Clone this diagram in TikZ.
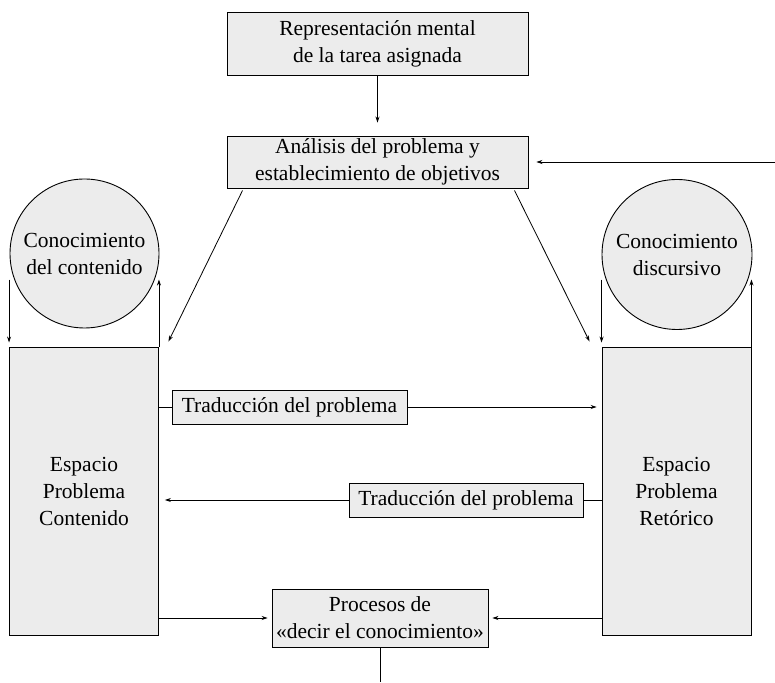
\documentclass[tikz,border=0pt]{standalone}
\usepackage{fontspec}
\setmainfont{Liberation Serif}
\usetikzlibrary{arrows.meta,calc,positioning}

\definecolor{cajagris}{RGB}{236,236,236}

\begin{document}
\begin{tikzpicture}[x=1pt, y=1pt,
    font=\fontsize{21.5}{27}\selectfont,
    caja/.style={draw, fill=cajagris, line width=0.9pt, align=center, inner sep=0pt},
    bola/.style={circle, draw, fill=cajagris, line width=0.9pt, align=center, inner sep=0pt},
    flecha/.style={line width=0.8pt, -{Stealth[length=6pt,width=4pt]}},
    linea/.style={line width=0.8pt}]
  \useasboundingbox (0,0) rectangle (775,682);
  % cajas superiores
  \node[caja, minimum width=301, minimum height=63] (rep) at (377.5,638) {Representación mental\\de la tarea asignada};
  \node[caja, minimum width=301, minimum height=52] (ana) at (377.5,520) {Análisis del problema y\\establecimiento de objetivos};
  % conocimientos
  \node[bola, minimum size=149] (ccont) at (84.5,428.5) {Conocimiento\\del contenido};
  \node[bola, minimum size=150] (cdisc) at (677,427.5) {Conocimiento\\discursivo};
  % espacios problema
  \node[caja, minimum width=149, minimum height=288] (epc) at (84,191) {Espacio\\Problema\\Contenido};
  \node[caja, minimum width=149, minimum height=288] (epr) at (676.5,191) {Espacio\\Problema\\Retórico};
  % traducciones y procesos
  \node[caja, minimum width=235, minimum height=34] (trad1) at (289.5,275) {Traducción del problema};
  \node[caja, minimum width=234, minimum height=34] (trad2) at (466,182) {Traducción del problema};
  \node[caja, minimum width=216, minimum height=58] (proc) at (380,64) {Procesos de\\«decir el conocimiento»};
  \coordinate (retro) at (775,520);
  \coordinate (salida) at (380,0);

  \draw[flecha, shorten >=13pt] (rep.south) -- (ana.north);
  \draw[flecha, shorten >=8pt] (retro) -- (ana.east);
  \draw[flecha] ($(ana.south west)+(16,-2)$) -- ($(epc.north east)+(9.5,5)$);
  \draw[flecha] ($(ana.south east)+(-14,-2)$) -- ($(epr.north west)+(-12,5)$);
  % ida y vuelta con los conocimientos
  \draw[flecha, shorten >=4pt] ([yshift=67pt]epc.north west) -- (epc.north west);
  \draw[flecha] (epc.north east) -- ([yshift=67pt]epc.north east);
  \draw[flecha, shorten >=4pt] ([yshift=67pt]epr.north west) -- (epr.north west);
  \draw[flecha] (epr.north east) -- ([yshift=67pt]epr.north east);
  % traducciones
  \draw[linea] (epc.east |- trad1) -- (trad1.west);
  \draw[flecha, shorten >=5pt] (trad1.east) -- (epr.west |- trad1);
  \draw[linea] (epr.west |- trad2) -- (trad2.east);
  \draw[flecha, shorten >=6pt] (trad2.west) -- (epc.east |- trad2);
  \draw[flecha, shorten >=4pt] (epc.east |- proc) -- (proc.west);
  \draw[flecha, shorten >=4pt] (epr.west |- proc) -- (proc.east);
  \draw[linea] (proc.south) -- (salida);
\end{tikzpicture}
\end{document}
